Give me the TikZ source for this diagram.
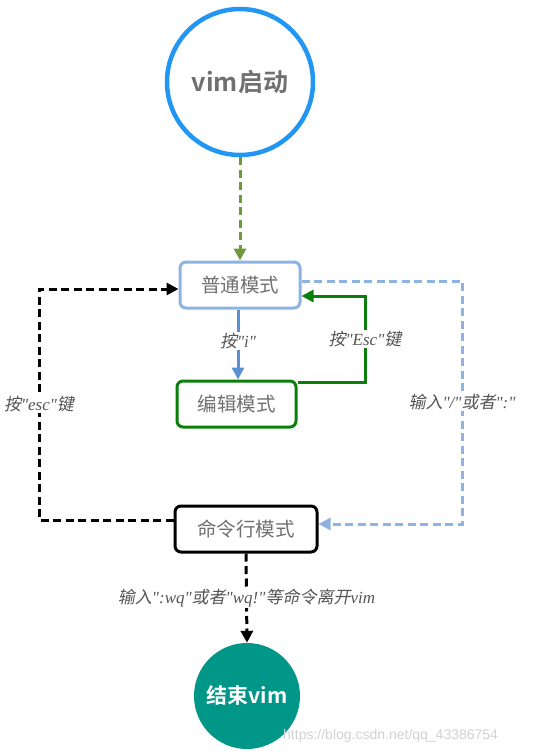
\documentclass[tikz,border=0pt]{standalone}
\usepackage{fontspec}
\setmainfont{Liberation Serif}
\newfontfamily\lserif{Liberation Serif}
\newfontfamily\cjk{Noto Sans CJK SC}
\newfontfamily\cjkb[BoldFont={Noto Sans CJK SC Bold}]{Noto Sans CJK SC}
\newfontfamily\cjksl[FakeSlant=0.2]{Noto Sans CJK SC}
\newfontfamily\lsans{Liberation Sans}
\usetikzlibrary{arrows.meta}
\definecolor{startblue}{HTML}{2196F3}
\definecolor{normblue}{HTML}{8DB3E2}
\definecolor{arrblue}{HTML}{5B8FD4}
\definecolor{editgreen}{HTML}{0B7F0B}
\definecolor{olivegreen}{HTML}{6E9A3C}
\definecolor{teal}{HTML}{009688}
\definecolor{txtgray}{HTML}{707070}
\definecolor{labgray}{HTML}{555555}
\tikzset{
  modebox/.style={draw, rounded corners=6pt, line width=3pt, minimum height=46pt, inner xsep=0pt, text=txtgray, font=\cjk\fontsize{19.5}{19.5}\selectfont},
  lab/.style={fill=white, inner sep=1pt, text=labgray, font=\lserif\fontsize{17}{17}\selectfont\itshape},
  arr/.style={-{Triangle[length=12pt,width=12pt]}, line width=3pt},
  dsh/.style={dash pattern=on 8pt off 4.5pt}
}
\begin{document}
\begin{tikzpicture}[x=1pt,y=-1pt]
\useasboundingbox (0,0) rectangle (536,755);
% nodes
\node[circle, draw=startblue, line width=4.5pt, minimum size=146pt, text=txtgray, font=\cjkb\bfseries\fontsize{25}{25}\selectfont] (start) at (240,82) {vim启动};
\node[modebox, draw=normblue, minimum width=120pt] (norm) at (240,285) {普通模式};
\node[modebox, draw=editgreen, minimum width=119pt] (edit) at (236.5,404) {编辑模式};
\node[modebox, draw=black, minimum width=142pt] (cmd) at (246,529) {命令行模式};
\node[circle, fill=teal, minimum size=106pt, text=white, font=\cjkb\bfseries\fontsize{21}{21}\selectfont] (end) at (247,696) {结束vim};
% corner coordinates
\coordinate (gA) at (365,382);
\coordinate (gB) at (365,296);
\coordinate (kA) at (39,520);
\coordinate (kB) at (39,289);
\coordinate (bA) at (462,281);
\coordinate (bB) at (462,524);
% connectors
\draw[arr, olivegreen, dsh] (start.south) -- (norm.north);
\draw[arr, arrblue] (norm.south -| 238,0) -- node[lab, pos=0.45]{{\cjksl 按}"i"} (edit.north -| 238,0);
\draw[arr, editgreen] (edit.east |- gA) -- (gA) -- node[lab, pos=0.5]{{\cjksl 按}"Esc"{\cjksl 键}} (gB) -- (norm.east |- gB);
\draw[arr, black, dsh] (cmd.west |- kA) -- (kA) -- node[lab, pos=0.5]{{\cjksl 按}"esc"{\cjksl 键}} (kB) -- (norm.west |- kB);
\draw[arr, normblue, dsh] (norm.east |- bA) -- (bA) -- node[lab, pos=0.5]{{\cjksl 输入}"/"{\cjksl 或者}":"} (bB) -- (cmd.east |- bB);
\draw[arr, black, dsh] (cmd.south) -- node[lab, pos=0.5]{{\cjksl 输入}":wq"{\cjksl 或者}"wq!"{\cjksl 等命令离开}vim} (end.north);
% watermark
\node[text=black!18, font=\lsans\fontsize{14}{14}\selectfont, anchor=west, inner sep=0pt] (wm) at (283,736) {https://blog.csdn.net/qq\_43386754};
\end{tikzpicture}
\end{document}
